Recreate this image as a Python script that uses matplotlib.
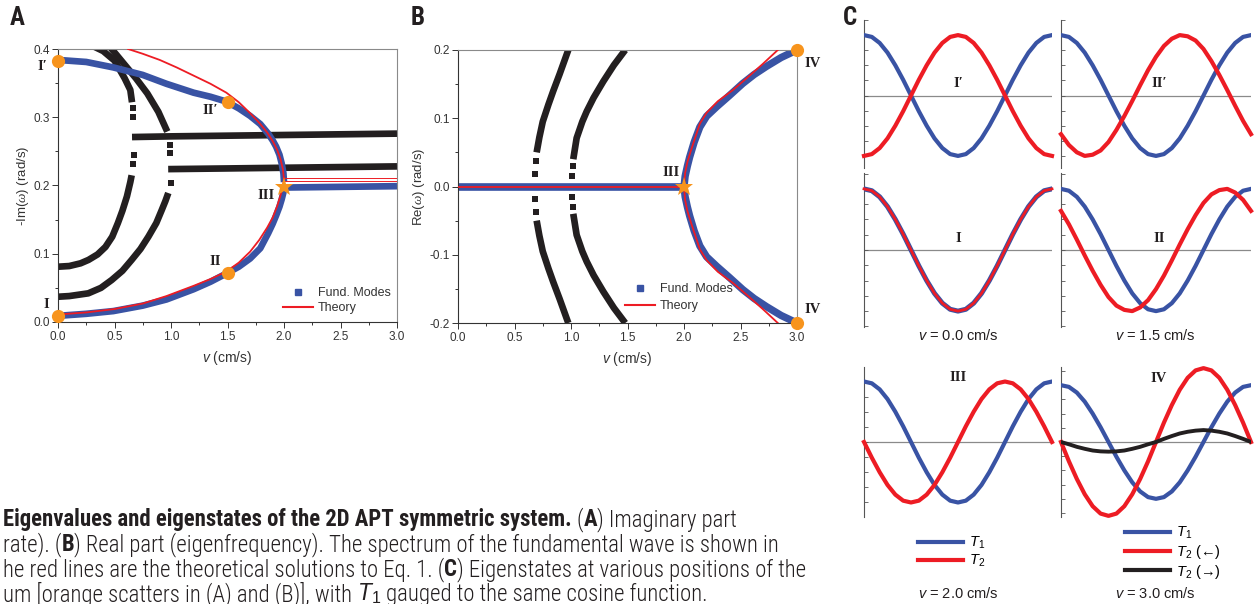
import matplotlib
matplotlib.use('Agg')
import matplotlib.pyplot as plt
from matplotlib.lines import Line2D
from matplotlib.ticker import MultipleLocator, FormatStrFormatter

plt.rcParams['font.family'] = ['Liberation Sans', 'DejaVu Sans']
plt.rcParams['mathtext.fontset'] = 'custom'
plt.rcParams['mathtext.rm'] = 'Liberation Sans'
plt.rcParams['mathtext.it'] = 'Liberation Serif:italic'
plt.rcParams['mathtext.sf'] = 'Liberation Sans:italic'

BLUE = '#3953a4'
RED = '#ed1c24'
ORANGE = '#f7941d'
BLACK = '#231f20'
GRAY = '#8a8a8a'
CAP_FONT = ['Roboto Condensed', 'DejaVu Sans Condensed', 'Liberation Sans Narrow',
            'Open Sans Condensed', 'Liberation Sans']
ROMAN = ['Liberation Serif', 'DejaVu Serif']

# ---- panel A : -Im(w) vs v ----
a_blk1_lo_v = [0.0, 0.1, 0.2, 0.27, 0.35, 0.42, 0.48, 0.53, 0.57, 0.61, 0.64, 0.652]
a_blk1_lo_y = [0.081, 0.082, 0.086, 0.091, 0.099, 0.11, 0.125, 0.145, 0.163, 0.184, 0.205, 0.215]
a_blk1_up_v = [0.655, 0.64, 0.59, 0.5, 0.4, 0.3, 0.26]
a_blk1_up_y = [0.322, 0.34, 0.357, 0.383, 0.397, 0.405, 0.41]
a_blk1_dot_v = [0.664, 0.67, 0.667, 0.66]
a_blk1_dot_y = [0.231, 0.245, 0.301, 0.314]
a_blk1_flat_v = [0.655, 1.0, 1.5, 2.0, 2.5, 3.0]
a_blk1_flat_y = [0.271, 0.272, 0.273, 0.274, 0.275, 0.276]

a_blk2_lo_v = [0.0, 0.1, 0.268, 0.38, 0.475, 0.57, 0.652, 0.73, 0.8, 0.87, 0.918, 0.95, 0.976]
a_blk2_lo_y = [0.037, 0.038, 0.042, 0.05, 0.0615, 0.075, 0.091, 0.107, 0.125, 0.145, 0.164, 0.177, 0.189]
a_blk2_up_v = [0.967, 0.888, 0.79, 0.69, 0.6, 0.5, 0.45]
a_blk2_up_y = [0.279, 0.308, 0.335, 0.357, 0.375, 0.395, 0.405]
a_blk2_dot_v = [0.997, 0.995, 0.99]
a_blk2_dot_y = [0.204, 0.248, 0.259]
a_blk2_flat_v = [0.975, 1.5, 2.0, 2.5, 3.0]
a_blk2_flat_y = [0.224, 0.225, 0.226, 0.227, 0.228]

a_fund_v = [0.0, 0.25, 0.49, 0.75, 0.96, 1.2, 1.35, 1.49, 1.6, 1.7, 1.79, 1.86, 1.9, 1.93, 1.96, 1.98, 1.995, 2.0]
a_fund_up = [0.384, 0.381, 0.373, 0.362, 0.349, 0.336, 0.33, 0.323, 0.313, 0.302, 0.29, 0.276, 0.266, 0.257, 0.245, 0.232, 0.218, 0.205]
a_fund_lo = [0.009, 0.012, 0.016, 0.024, 0.033, 0.048, 0.059, 0.071, 0.081, 0.093, 0.108, 0.13, 0.144, 0.156, 0.169, 0.18, 0.19, 0.197]
a_fund_flat_v = [2.0, 2.5, 3.0]
a_fund_flat_y = [0.197, 0.198, 0.199]

a_th_up_v = [0.62, 0.75, 0.9, 1.05, 1.2, 1.35, 1.49, 1.6, 1.7, 1.78, 1.85, 1.9, 1.94, 1.97, 1.99, 2.0]
a_th_up_y = [0.4, 0.393, 0.384, 0.373, 0.361, 0.349, 0.336, 0.322, 0.306, 0.292, 0.278, 0.265, 0.252, 0.238, 0.224, 0.209]
a_th_lo_v = [0.0, 0.25, 0.5, 0.75, 0.96, 1.2, 1.35, 1.49, 1.6, 1.7, 1.78, 1.85, 1.9, 1.94, 1.97, 1.99, 2.0]
a_th_lo_y = [0.011, 0.014, 0.019, 0.027, 0.038, 0.053, 0.063, 0.074, 0.087, 0.103, 0.12, 0.138, 0.153, 0.17, 0.186, 0.198, 0.209]
a_th_flat_v = [2.0, 3.0]
a_th_flat_y1 = [0.2105, 0.2105]
a_th_flat_y2 = [0.207, 0.207]

a_pts_v = [0.0, 0.0, 1.5, 1.5]
a_pts_y = [0.009, 0.383, 0.072, 0.323]
a_star_v, a_star_y = [2.0], [0.198]

# ---- panel B : Re(w) vs v ----
b_blk1_v = [0.696, 0.72, 0.75, 0.8, 0.843, 0.9, 0.976]
b_blk1_y = [0.05, 0.072, 0.095, 0.12, 0.14, 0.165, 0.2]
b_blk1_dot_v = [0.69, 0.681, 0.681, 0.69]
b_blk1_dot_y = [0.037, 0.018, -0.018, -0.037]
b_blk2_v = [1.02, 1.05, 1.1, 1.139, 1.2, 1.286, 1.38, 1.48]
b_blk2_y = [0.04, 0.071, 0.095, 0.11, 0.13, 0.154, 0.178, 0.2]
b_blk2_dot_v = [1.015, 1.012, 1.012, 1.015]
b_blk2_dot_y = [0.03, 0.015, -0.015, -0.03]

b_fund_flat_v = [0.0, 2.0]
b_fund_flat_y = [0.0, 0.0]
b_fund_v = [2.0, 2.01, 2.03, 2.05, 2.09, 2.14, 2.2, 2.29, 2.4, 2.52, 2.62, 2.73, 2.86, 3.0]
b_fund_y = [0.0, 0.015, 0.03, 0.043, 0.065, 0.087, 0.103, 0.117, 0.133, 0.151, 0.164, 0.176, 0.189, 0.2]
b_th_v = [2.0, 2.01, 2.03, 2.06, 2.1, 2.14, 2.2, 2.3, 2.43, 2.55, 2.7, 2.83]
b_th_y = [0.0, 0.02, 0.036, 0.052, 0.072, 0.092, 0.108, 0.125, 0.141, 0.158, 0.18, 0.2]

b_pts_v = [3.0, 3.0]
b_pts_y = [0.2, -0.2]
b_star_v, b_star_y = [2.0], [0.0]

# ---- panel C : eigenstates, phase in degrees ----
phase = [0, 15, 30, 45, 60, 75, 90, 105, 120, 135, 150, 165, 180,
         195, 210, 225, 240, 255, 270, 285, 300, 315, 330, 345, 360]
t1 = [1.0, 0.97, 0.87, 0.71, 0.5, 0.26, 0.0, -0.26, -0.5, -0.71, -0.87, -0.97, -1.0,
      -0.97, -0.87, -0.71, -0.5, -0.26, 0.0, 0.26, 0.5, 0.71, 0.87, 0.97, 1.0]
t2_i1 = [-1.0, -0.97, -0.87, -0.71, -0.5, -0.26, 0.0, 0.26, 0.5, 0.71, 0.87, 0.97, 1.0,
         0.97, 0.87, 0.71, 0.5, 0.26, 0.0, -0.26, -0.5, -0.71, -0.87, -0.97, -1.0]
t2_ii1 = [-0.64, -0.82, -0.94, -1.0, -0.98, -0.91, -0.77, -0.57, -0.34, -0.09, 0.17, 0.42, 0.64,
          0.82, 0.94, 1.0, 0.98, 0.91, 0.77, 0.57, 0.34, 0.09, -0.17, -0.42, -0.64]
t2_i = [1.0, 0.97, 0.87, 0.71, 0.5, 0.26, 0.0, -0.26, -0.5, -0.71, -0.87, -0.97, -1.0,
        -0.97, -0.87, -0.71, -0.5, -0.26, 0.0, 0.26, 0.5, 0.71, 0.87, 0.97, 1.0]
t2_ii = [0.64, 0.42, 0.17, -0.09, -0.34, -0.57, -0.77, -0.91, -0.98, -1.0, -0.94, -0.82, -0.64,
         -0.42, -0.17, 0.09, 0.34, 0.57, 0.77, 0.91, 0.98, 1.0, 0.94, 0.82, 0.64]
t2_iii = [0.0, -0.26, -0.5, -0.71, -0.87, -0.97, -1.0, -0.97, -0.87, -0.71, -0.5, -0.26, 0.0,
          0.26, 0.5, 0.71, 0.87, 0.97, 1.0, 0.97, 0.87, 0.71, 0.5, 0.26, 0.0]
t2_iv_left = [0.0, -0.34, -0.65, -0.92, -1.13, -1.26, -1.3, -1.26, -1.13, -0.92, -0.65, -0.34, 0.0,
              0.34, 0.65, 0.92, 1.13, 1.26, 1.3, 1.26, 1.13, 0.92, 0.65, 0.34, 0.0]
t2_iv_right = [0.0, -0.04, -0.085, -0.12, -0.15, -0.165, -0.17, -0.165, -0.15, -0.12, -0.085, -0.04, 0.0,
               0.055, 0.105, 0.15, 0.18, 0.2, 0.21, 0.2, 0.18, 0.15, 0.105, 0.055, 0.0]

W, H = 1254, 604
fig = plt.figure(figsize=(W / 100, H / 100), dpi=100)


def px_axes(x0, y0, x1, y1):
    return fig.add_axes([x0 / W, 1 - y1 / H, (x1 - x0) / W, (y1 - y0) / H])


def style_spectrum(ax, ylo, yhi, step):
    ax.set_xlim(0, 3)
    ax.set_ylim(ylo, yhi)
    ax.xaxis.set_major_locator(MultipleLocator(0.5))
    ax.xaxis.set_minor_locator(MultipleLocator(0.25))
    ax.yaxis.set_major_locator(MultipleLocator(step))
    ax.yaxis.set_minor_locator(MultipleLocator(step / 2))
    ax.xaxis.set_major_formatter(FormatStrFormatter('%.1f'))
    ax.yaxis.set_major_formatter(FormatStrFormatter('%.1f'))
    ax.tick_params(which='both', direction='out', width=0.7, color='#333333',
                   labelcolor='#333333', labelsize=8.5)
    ax.tick_params(which='major', length=4)
    ax.tick_params(which='minor', length=2.5)
    ax.tick_params(axis='x', pad=2.5)
    ax.tick_params(axis='y', pad=2)
    for s in ('top', 'right'):
        ax.spines[s].set_color(GRAY)
    for s in ('left', 'bottom'):
        ax.spines[s].set_color('#333333')
    for s in ax.spines.values():
        s.set_linewidth(0.8)
    ax.set_xlabel(r'$\mathsf{v}$ (cm/s)', fontsize=10, color='#333333')
    ax.xaxis.set_label_coords(0.5, -0.1)


def thick(ax, v, y, color=BLACK, lw=4.8):
    ax.plot(v, y, color=color, lw=lw, solid_capstyle='butt', zorder=2)


def dots(ax, v, y):
    ax.plot(v, y, 's', color=BLACK, ms=4.3, mew=0, zorder=2)


def spectrum_legend(ax, x, y, gap):
    h = [Line2D([], [], ls='none', marker='s', ms=4.5, color=BLUE),
         Line2D([], [], color=RED, lw=1.5)]
    ax.legend(h, ['Fund. Modes', 'Theory'], loc='upper left', bbox_to_anchor=(x, y),
              frameon=False, fontsize=9, handlelength=2.4, handletextpad=0.35,
              labelspacing=gap, borderpad=0, borderaxespad=0, labelcolor='#333333')


# panel A
axA = px_axes(58, 49, 397, 322)
style_spectrum(axA, 0.0, 0.4, 0.1)
axA.set_ylabel(r'-Im($\omega$) (rad/s)', fontsize=9.5, color='#333333')
axA.yaxis.set_label_coords(-0.08, 0.5)
for v, y in [(a_blk1_lo_v, a_blk1_lo_y), (a_blk1_up_v, a_blk1_up_y), (a_blk1_flat_v, a_blk1_flat_y),
             (a_blk2_lo_v, a_blk2_lo_y), (a_blk2_up_v, a_blk2_up_y), (a_blk2_flat_v, a_blk2_flat_y)]:
    thick(axA, v, y)
dots(axA, a_blk1_dot_v, a_blk1_dot_y)
dots(axA, a_blk2_dot_v, a_blk2_dot_y)
thick(axA, a_fund_v, a_fund_up, BLUE, 4.8)
thick(axA, a_fund_v, a_fund_lo, BLUE, 4.8)
thick(axA, a_fund_flat_v, a_fund_flat_y, BLUE, 4.8)
for v, y in [(a_th_up_v, a_th_up_y), (a_th_lo_v, a_th_lo_y)]:
    axA.plot(v, y, color=RED, lw=1.3, zorder=3)
axA.plot(a_th_flat_v, a_th_flat_y1, color=RED, lw=0.7, zorder=3)
axA.plot(a_th_flat_v, a_th_flat_y2, color=RED, lw=0.7, zorder=3)
axA.plot(a_pts_v, a_pts_y, 'o', color=ORANGE, ms=9.5, mew=0, clip_on=False, zorder=10)
axA.plot(a_star_v, a_star_y, '*', color=ORANGE, ms=14, mew=0, clip_on=False, zorder=10)
for s, x, y in [('I′', -0.14, 0.375), ('I', -0.1, 0.025), ('II′', 1.35, 0.31),
                ('II', 1.39, 0.088), ('III', 1.84, 0.186)]:
    axA.text(x, y, s, ha='center', va='center', fontsize=10.5, fontweight='bold',
             family=ROMAN, color='#231f20', clip_on=False)
spectrum_legend(axA, 0.665, 0.128, 0.25)

# panel B
axB = px_axes(458, 50, 797, 323)
style_spectrum(axB, -0.2, 0.2, 0.1)
axB.set_ylabel(r'Re($\omega$) (rad/s)', fontsize=9.5, color='#333333')
axB.yaxis.set_label_coords(-0.09, 0.5)
for sgn in (1, -1):
    thick(axB, b_blk1_v, [sgn * y for y in b_blk1_y])
    thick(axB, b_blk2_v, [sgn * y for y in b_blk2_y])
    thick(axB, b_fund_v, [sgn * y for y in b_fund_y], BLUE, 5.3)
    axB.plot(b_th_v, [sgn * y for y in b_th_y], color=RED, lw=1.3, zorder=3)
dots(axB, b_blk1_dot_v, b_blk1_dot_y)
dots(axB, b_blk2_dot_v, b_blk2_dot_y)
thick(axB, b_fund_flat_v, b_fund_flat_y, BLUE, 5.5)
axB.plot(b_fund_flat_v, b_fund_flat_y, color=RED, lw=1.3, zorder=3)
axB.plot(b_pts_v, b_pts_y, 'o', color=ORANGE, ms=9.5, mew=0, clip_on=False, zorder=10)
axB.plot(b_star_v, b_star_y, '*', color=ORANGE, ms=14, mew=0, clip_on=False, zorder=10)
for s, x, y in [('III', 1.89, 0.02), ('IV', 3.14, 0.18), ('IV', 3.14, -0.18)]:
    axB.text(x, y, s, ha='center', va='center', fontsize=10.5, fontweight='bold',
             family=ROMAN, color='#231f20', clip_on=False)
spectrum_legend(axB, 0.493, 0.145, 0.4)

# panel C
def state_axes(x0, y0, x1, y1, ylo, yhi):
    ax = px_axes(x0, y0, x1, y1)
    ax.set_xlim(0, 360)
    ax.set_ylim(ylo, yhi)
    ax.axhline(0, color=GRAY, lw=0.9, zorder=1)
    for s in ('top', 'right', 'bottom'):
        ax.spines[s].set_visible(False)
    ax.spines['left'].set_color('#555555')
    ax.spines['left'].set_linewidth(0.8)
    ax.set_xticks([])
    ax.yaxis.set_major_locator(MultipleLocator(0.25))
    ax.tick_params(axis='y', direction='in', length=3, width=0.6, color='#555555', labelleft=False)
    return ax


panels = [
    ((864, 20, 1052, 168), (-1.2, 1.25), t2_i1, 'I′', 0.2, None),
    ((1061, 20, 1251, 168), (-1.2, 1.25), t2_ii1, 'II′', 0.2, None),
    ((864, 173, 1052, 327), (-1.26, 1.26), t2_i, 'I', 0.18, None),
    ((1061, 173, 1251, 327), (-1.26, 1.26), t2_ii, 'II', 0.18, None),
    ((864, 367, 1052, 517), (-1.24, 1.24), t2_iii, 'III', 1.07, None),
    ((1061, 367, 1251, 517), (-1.32, 1.32), t2_iv_left, 'IV', 1.12, t2_iv_right),
]
for box, ylim, red, name, ty, black in panels:
    ax = state_axes(*box, *ylim)
    ax.plot(phase, t1, color=BLUE, lw=3.6 if name == 'I' else 3.0, zorder=3)
    ax.plot(phase, red, color=RED, lw=2.0 if name == 'I' else 3.0, zorder=4, clip_on=False)
    if black is not None:
        ax.plot(phase, black, color=BLACK, lw=2.8, zorder=5)
    ax.text(180 if box[0] < 1000 else 186, ty, name, ha='center', va='center', fontsize=10.5,
            fontweight='bold', family=ROMAN, color='#231f20')

for s, x, y in [('0.0', 958, 336), ('1.5', 1155, 336), ('2.0', 958, 594), ('3.0', 1155, 594)]:
    fig.text(x / W, 1 - y / H, r'$\mathsf{v}$ = ' + s + ' cm/s', ha='center', va='center',
             fontsize=10.5, color='#231f20')

h2 = [Line2D([], [], color=BLUE, lw=3.0), Line2D([], [], color=RED, lw=3.0)]
fig.legend(h2, [r'$\mathsf{T}_1$', r'$\mathsf{T}_2$'], loc='upper left',
           bbox_to_anchor=(918 / W, 1 - 535 / H), frameon=False, fontsize=10.5,
           handlelength=3.1, handletextpad=0.4, labelspacing=0.15, borderpad=0, borderaxespad=0)
h3 = [Line2D([], [], color=BLUE, lw=3.0), Line2D([], [], color=RED, lw=3.0),
      Line2D([], [], color=BLACK, lw=3.0)]
fig.legend(h3, [r'$\mathsf{T}_1$', r'$\mathsf{T}_2$ (←)', r'$\mathsf{T}_2$ (→)'], loc='upper left',
           bbox_to_anchor=(1125 / W, 1 - 525 / H), frameon=False, fontsize=10.5,
           handlelength=3.1, handletextpad=0.4, labelspacing=0.12, borderpad=0, borderaxespad=0)

# panel letters
for s, x in [('A', 17), ('B', 418), ('C', 850)]:
    fig.text(x / W, 1 - 18 / H, s, ha='center', va='center', fontsize=18, fontweight='bold',
             family=CAP_FONT, color='#231f20')

# caption
renderer = fig.canvas.get_renderer()
CAP_SIZE = 16.4
REG = 'light'


def caption_line(y, parts):
    x = 3 / W
    sp = (fig.text(0, 0, 'x x', fontsize=CAP_SIZE, family=CAP_FONT, fontweight=REG).get_window_extent(renderer).width
          - fig.text(0, 0, 'xx', fontsize=CAP_SIZE, family=CAP_FONT, fontweight=REG).get_window_extent(renderer).width)
    for t in fig.texts[-2:]:
        t.remove()
    for s, weight, gap in parts:
        t = fig.text(x, 1 - y / H, s, fontsize=CAP_SIZE, fontweight=weight, family=CAP_FONT,
                     va='baseline', color='#231f20')
        x += (t.get_window_extent(renderer).width + gap * sp) / W


caption_line(526, [('Eigenvalues and eigenstates of the 2D APT symmetric system.', 'bold', 1),
                   ('(', REG, 0), ('A', 'bold', 0), (') Imaginary part', REG, 0)])
caption_line(551, [('rate). (', REG, 0), ('B', 'bold', 0),
                   (') Real part (eigenfrequency). The spectrum of the fundamental wave is shown in', REG, 0)])
caption_line(576, [('he red lines are the theoretical solutions to Eq. 1. (', REG, 0), ('C', 'bold', 0),
                   (') Eigenstates at various positions of the', REG, 0)])
caption_line(601, [('um [orange scatters in (A) and (B)], with', REG, 1), (r'$\mathsf{T}_1$', REG, 1),
                   ('gauged to the same cosine function.', REG, 0)])

fig.savefig('out.png', dpi=100)
